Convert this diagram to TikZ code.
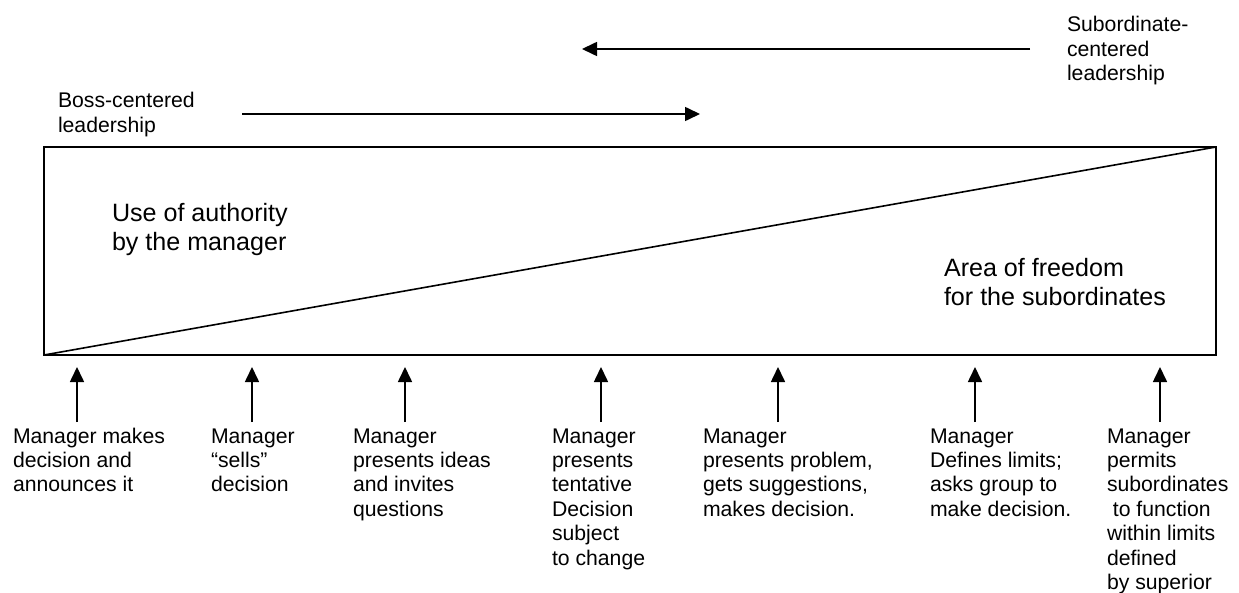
\documentclass[tikz,border=0pt]{standalone}
\usepackage{fontspec}
\setmainfont{Liberation Sans}
\usetikzlibrary{arrows.meta}
% stacked lines, baseline of the node = baseline of the first line
\newcommand{\rows}[1]{\begin{tabular}[t]{@{}l@{}}#1\end{tabular}}
\begin{document}
\begin{tikzpicture}[x=1pt,y=-1pt,
  frame/.style={draw,line width=1.6pt,inner sep=0pt,outer sep=0pt},
  slope/.style={line width=1.6pt},
  pointer/.style={line width=1.6pt,-{Triangle[length=15pt,width=14pt]}},
  label/.style={anchor=base west,inner sep=0pt,outer sep=0pt,
    font=\fontsize{21.2}{24.4}\selectfont},
  biglabel/.style={anchor=base west,inner sep=0pt,outer sep=0pt,
    font=\fontsize{25.1}{28.9}\selectfont}]
\useasboundingbox[fill=white] (0,0) rectangle (1239,593);

% the authority / freedom box with its dividing diagonal
\node[frame,minimum width=1172pt,minimum height=208pt,anchor=north west] (box) at (44,147) {};
\draw[slope] (box.south west) -- (box.north east);
\node[biglabel] (authority) at (112,222) {\rows{Use of authority\\by the manager}};
\node[biglabel] (freedom) at (944,277) {\rows{Area of freedom\\for the subordinates}};

% leadership direction arrows
\node[label] (boss) at (58,108) {\rows{Boss-centered\\leadership}};
\node[label] (sub) at (1067,32) {\rows{Subordinate-\\centered\\leadership}};
\coordinate (bossStart) at (242,114);
\coordinate (bossEnd) at (700,114);
\coordinate (subStart) at (1030,49);
\coordinate (subEnd) at (582,49);
\draw[pointer] (bossStart) -- (bossEnd);
\draw[pointer] (subStart) -- (subEnd);

% behaviour range along the bottom
\node[label] (b1) at (13,443) {\rows{Manager makes\\decision and\\announces it}};
\node[label] (b2) at (211,443) {\rows{Manager\\“sells”\\decision}};
\node[label] (b3) at (353,443) {\rows{Manager\\presents ideas\\and invites\\questions}};
\node[label] (b4) at (552,443) {\rows{Manager\\presents\\tentative\\Decision\\subject\\to change}};
\node[label] (b5) at (703,443) {\rows{Manager\\presents problem,\\gets suggestions,\\makes decision.}};
\node[label] (b6) at (930,443) {\rows{Manager\\Defines limits;\\asks group to\\make decision.}};
\node[label] (b7) at (1107,443) {\rows{Manager\\permits\\subordinates\\~to function\\within limits\\defined\\by superior}};

\foreach \i/\x in {1/77,2/252,3/405,4/601,5/778,6/975,7/1160}{
  \coordinate (foot\i) at (\x,422);
  \coordinate (tip\i) at (\x,367);
  \draw[pointer] (foot\i) -- (tip\i);
}
\end{tikzpicture}
\end{document}
